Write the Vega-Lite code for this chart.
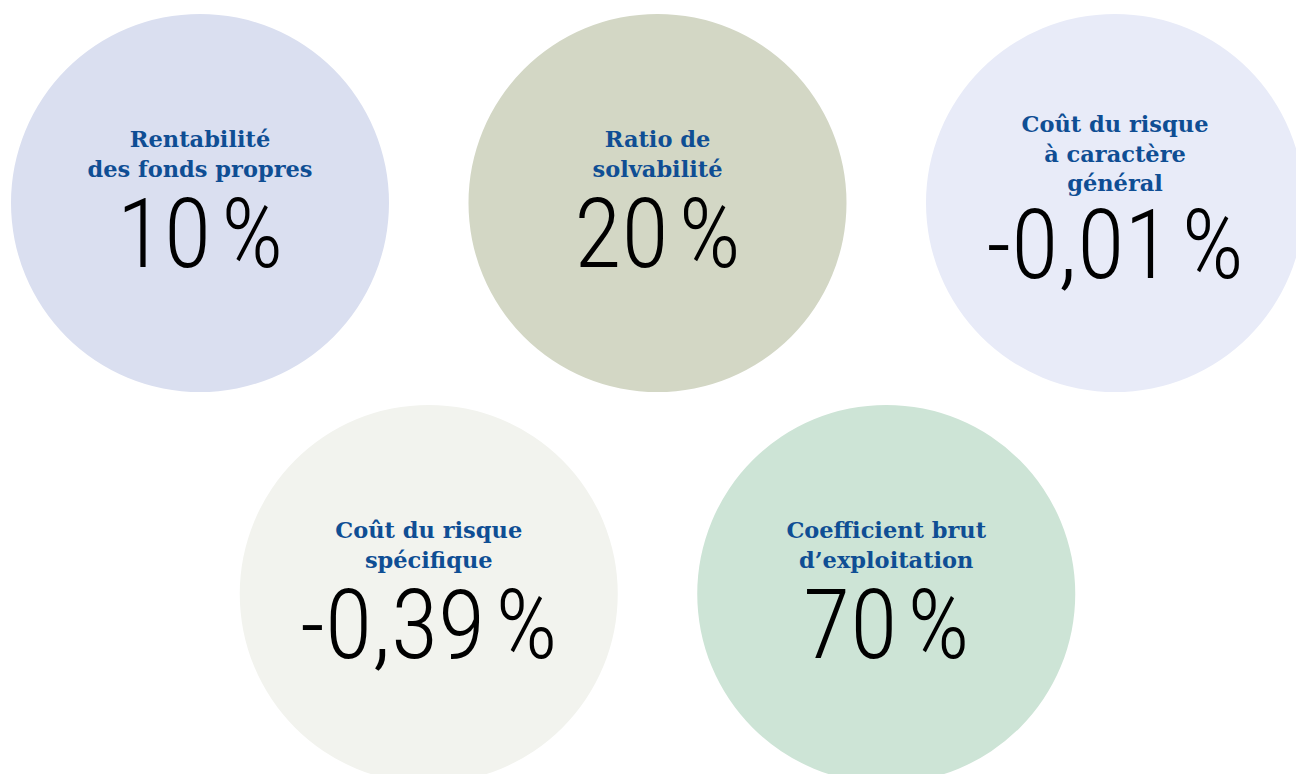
{
  "$schema": "https://vega.github.io/schema/vega-lite/v6.json",
  "width": 1296,
  "height": 774,
  "autosize": {"type": "none"},
  "padding": 0,
  "background": "white",
  "config": {"view": {"stroke": null}},
  "data": {
    "values": [
      {"indicateur": "Rentabilité\ndes fonds propres", "valeur": "10\u200a%", "colonne": 0, "ligne": 0, "lignes": 2},
      {"indicateur": "Ratio de\nsolvabilité", "valeur": "20\u200a%", "colonne": 1, "ligne": 0, "lignes": 2},
      {"indicateur": "Coût du risque\nà caractère\ngénéral", "valeur": "-0,01\u200a%", "colonne": 2, "ligne": 0, "lignes": 3},
      {"indicateur": "Coût du risque\nspécifique", "valeur": "-0,39\u200a%", "colonne": 0.5, "ligne": 1, "lignes": 2},
      {"indicateur": "Coefficient brut\nd’exploitation", "valeur": "70\u200a%", "colonne": 1.5, "ligne": 1, "lignes": 2}
    ]
  },
  "encoding": {
    "x": {"field": "colonne", "type": "quantitative", "scale": {"domain": [0, 2], "range": [200, 1115], "nice": false, "zero": false}, "axis": null},
    "y": {"field": "ligne", "type": "ordinal", "scale": {"type": "point", "domain": [0, 1], "range": [203, 594], "padding": 0}, "axis": null}
  },
  "layer": [
    {
      "mark": {"type": "point", "shape": "circle", "filled": true, "size": 142884, "opacity": 1, "strokeWidth": 0},
      "encoding": {
        "color": {
          "field": "indicateur", "type": "nominal", "legend": null,
          "scale": {
            "domain": ["Rentabilité\ndes fonds propres", "Ratio de\nsolvabilité", "Coût du risque\nà caractère\ngénéral", "Coût du risque\nspécifique", "Coefficient brut\nd’exploitation"],
            "range": ["#dadff0", "#d3d7c5", "#e8ebf8", "#f2f3ee", "#cde4d6"]
          }
        }
      }
    },
    {
      "mark": {"type": "text", "lineBreak": "\n", "baseline": "alphabetic", "align": "center", "dy": -56, "font": "DejaVu Serif", "fontWeight": "bold", "fontSize": 22.5, "lineHeight": 29.5, "color": "#0f4e94"},
      "encoding": {
        "text": {"field": "indicateur"},
        "yOffset": {"field": "lignes", "type": "quantitative", "scale": {"domain": [2, 3], "range": [0, -15], "zero": false, "nice": false}}
      }
    },
    {
      "mark": {"type": "text", "baseline": "alphabetic", "align": "center", "dy": 64, "font": "Noto Sans Condensed Light, Roboto Condensed Light, Roboto", "fontWeight": 300, "fontSize": 97, "color": "#000000"},
      "encoding": {
        "text": {"field": "valeur"},
        "yOffset": {"field": "lignes", "type": "quantitative", "scale": {"domain": [2, 3], "range": [0, 11], "zero": false, "nice": false}}
      }
    }
  ],
  "resolve": {"scale": {"yOffset": "independent"}}
}
